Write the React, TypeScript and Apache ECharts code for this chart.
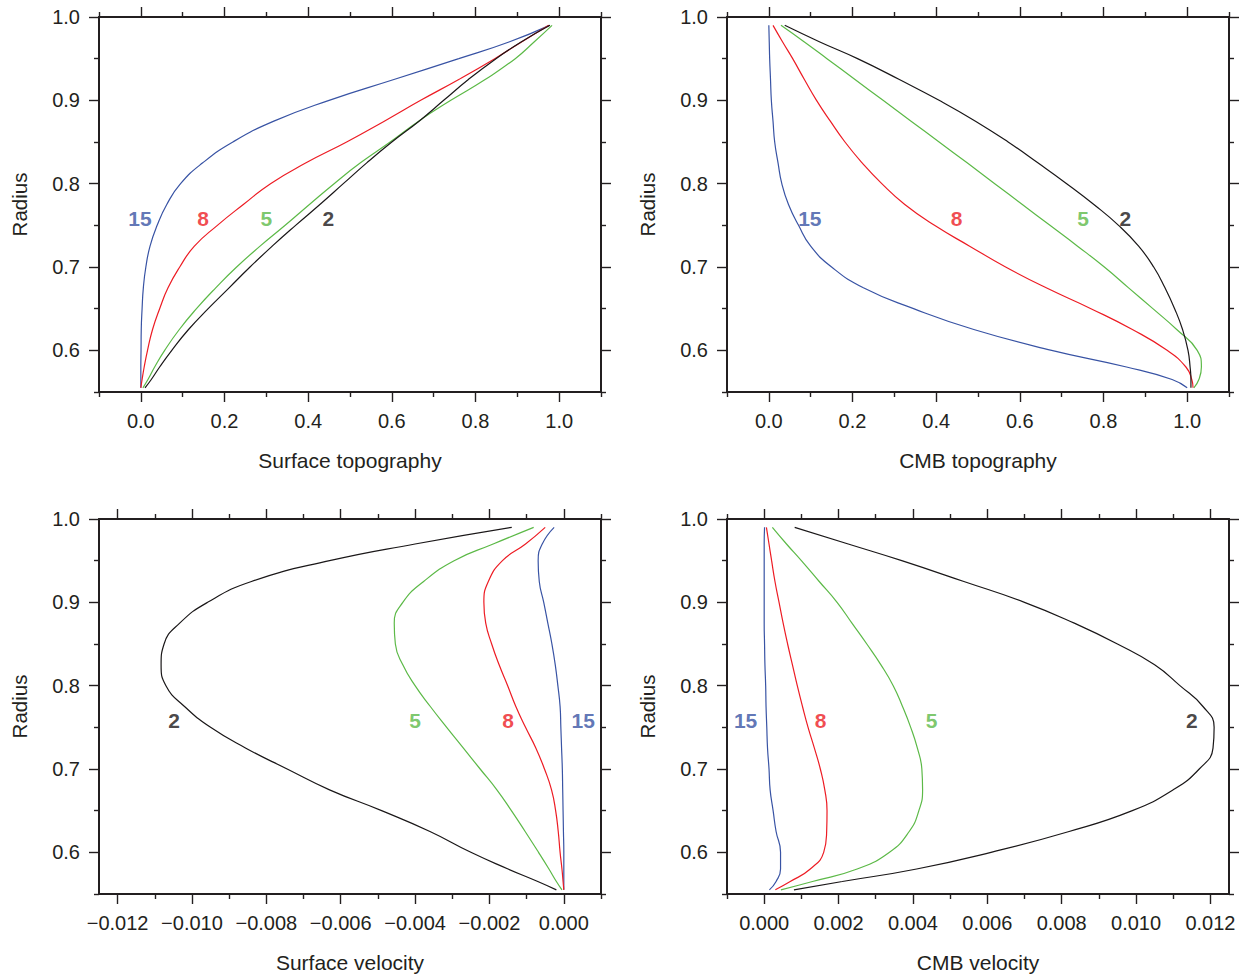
import React, { useEffect, useRef } from "react";
import * as echarts from "echarts";

const FONT = '"Liberation Sans", Arial, Helvetica, sans-serif';
const INK = "#231f20";

// Degrees shown on the curves and their colours
const DEGREES = ["15", "8", "5", "2"];
const DEGREE_COLORS = ["#3853a4", "#ed1c24", "#5cb947", "#1a1718"];

// Shared radius samples (y values) for every curve
const RADIUS = [0.555, 0.565, 0.58, 0.6, 0.625, 0.65, 0.675, 0.7, 0.725, 0.75, 0.775, 0.8, 0.825, 0.85, 0.875, 0.9, 0.925, 0.95, 0.97, 0.99];

// Surface topography
const ST_15 = [0, 0, 0, 0.0005, 0.001, 0.003, 0.006, 0.012, 0.022, 0.039, 0.062, 0.095, 0.148, 0.22, 0.318, 0.45, 0.605, 0.76, 0.88, 0.977];
const ST_8 = [0, 0.003, 0.008, 0.016, 0.028, 0.045, 0.065, 0.093, 0.128, 0.183, 0.245, 0.31, 0.395, 0.492, 0.582, 0.669, 0.76, 0.846, 0.91, 0.975];
const ST_5 = [0.005, 0.017, 0.033, 0.057, 0.092, 0.133, 0.179, 0.229, 0.285, 0.345, 0.403, 0.462, 0.525, 0.596, 0.664, 0.741, 0.823, 0.895, 0.94, 0.983];
const ST_2 = [0.01, 0.025, 0.045, 0.074, 0.114, 0.161, 0.211, 0.261, 0.314, 0.37, 0.428, 0.484, 0.54, 0.6, 0.665, 0.724, 0.783, 0.849, 0.909, 0.978];

// CMB topography
const CT_15 = [1.0, 0.964, 0.855, 0.676, 0.49, 0.346, 0.226, 0.15, 0.1, 0.071, 0.047, 0.031, 0.022, 0.014, 0.01, 0.006, 0.004, 0.002, 0.001, 0.0];
const CT_8 = [1.014, 1.011, 0.997, 0.952, 0.869, 0.77, 0.663, 0.566, 0.48, 0.396, 0.325, 0.27, 0.223, 0.182, 0.147, 0.114, 0.085, 0.057, 0.033, 0.01];
const CT_5 = [1.016, 1.028, 1.034, 1.024, 0.975, 0.918, 0.86, 0.802, 0.738, 0.672, 0.606, 0.54, 0.474, 0.407, 0.34, 0.273, 0.206, 0.139, 0.085, 0.029];
const CT_2 = [1.009, 1.009, 1.007, 1.002, 0.989, 0.97, 0.947, 0.92, 0.884, 0.836, 0.777, 0.712, 0.643, 0.572, 0.494, 0.407, 0.312, 0.212, 0.122, 0.038];

// Surface velocity
const SV_15 = [0, 0, 0, 0, -0.00001, -0.00002, -0.00003, -0.00004, -0.00006, -0.00008, -0.0001, -0.00016, -0.00023, -0.00032, -0.00043, -0.00054, -0.00066, -0.00069, -0.00058, -0.00026];
const SV_8 = [0, -0.00002, -0.00005, -0.0001, -0.00015, -0.00022, -0.00033, -0.00052, -0.00075, -0.00103, -0.00129, -0.00151, -0.00174, -0.00194, -0.0021, -0.00215, -0.00203, -0.00165, -0.00103, -0.0005];
const SV_5 = [-0.00005, -0.0002, -0.0004, -0.00068, -0.00104, -0.00141, -0.0018, -0.00225, -0.0027, -0.00315, -0.00359, -0.004, -0.00433, -0.00453, -0.00456, -0.00433, -0.00377, -0.00295, -0.0019, -0.00081];
const SV_2 = [-0.0002, -0.0007, -0.0015, -0.0025, -0.0036, -0.0049, -0.0063, -0.00744, -0.00855, -0.0095, -0.0102, -0.0107, -0.01083, -0.01075, -0.01033, -0.00958, -0.0084, -0.0063, -0.004, -0.0014];

// CMB velocity
const CV_15 = [0.00014, 0.00032, 0.00044, 0.00044, 0.00032, 0.00024, 0.00016, 0.00013, 0.00009, 0.00007, 0.00005, 0.00004, 0.00002, 0.00001, 0, 0, 0, 0, 0, 0.00001];
const CV_8 = [0.0003, 0.0007, 0.00124, 0.0016, 0.00168, 0.00169, 0.00163, 0.00151, 0.00135, 0.00118, 0.00103, 0.00089, 0.00076, 0.00063, 0.00051, 0.0004, 0.00029, 0.0002, 0.00013, 0.00006];
const CV_5 = [0.00045, 0.0013, 0.0025, 0.00337, 0.0039, 0.00416, 0.00426, 0.00424, 0.00412, 0.00394, 0.00372, 0.00347, 0.00314, 0.00276, 0.00236, 0.00196, 0.00148, 0.001, 0.0006, 0.00022];
const CV_2 = [0.0008, 0.0021, 0.0041, 0.0061, 0.0082, 0.0099, 0.011, 0.0117, 0.01207, 0.0121, 0.0118, 0.01118, 0.0105, 0.0095, 0.00834, 0.007, 0.00537, 0.0037, 0.00226, 0.00082];

// Curve label anchors (x in data units, in DEGREES order), shared radius
const LABEL_R = 0.758;
const ST_LABEL_X = [-0.002, 0.149, 0.3, 0.448];
const CT_LABEL_X = [0.098, 0.449, 0.751, 0.852];
const SV_LABEL_X = [0.00052, -0.0015, -0.004, -0.01048];
const CV_LABEL_X = [-0.0005, 0.00152, 0.0045, 0.0115];

// Tick values
const RADIUS_MAJOR = [0.6, 0.7, 0.8, 0.9, 1.0];
const RADIUS_MINOR = [0.55, 0.65, 0.75, 0.85, 0.95];
const TOPO_MAJOR = [0, 0.2, 0.4, 0.6, 0.8, 1.0];
const TOPO_MINOR = [-0.1, 0.1, 0.3, 0.5, 0.7, 0.9, 1.1];
const SV_MAJOR = [-0.012, -0.01, -0.008, -0.006, -0.004, -0.002, 0];
const SV_MINOR = [-0.011, -0.009, -0.007, -0.005, -0.003, -0.001, 0.001];
const CV_MAJOR = [0, 0.002, 0.004, 0.006, 0.008, 0.01, 0.012];
const CV_MINOR = [-0.001, 0.001, 0.003, 0.005, 0.007, 0.009, 0.011];

const PANELS = [
  { left: 99, top: 17, xMin: -0.1, xMax: 1.1, major: TOPO_MAJOR, minor: TOPO_MINOR, digits: 1, name: "Surface topography", curves: [ST_15, ST_8, ST_5, ST_2], labelX: ST_LABEL_X },
  { left: 727, top: 17, xMin: -0.1, xMax: 1.1, major: TOPO_MAJOR, minor: TOPO_MINOR, digits: 1, name: "CMB topography", curves: [CT_15, CT_8, CT_5, CT_2], labelX: CT_LABEL_X },
  { left: 99, top: 519, xMin: -0.0125, xMax: 0.001, major: SV_MAJOR, minor: SV_MINOR, digits: 3, name: "Surface velocity", curves: [SV_15, SV_8, SV_5, SV_2], labelX: SV_LABEL_X },
  { left: 727, top: 519, xMin: -0.001, xMax: 0.0125, major: CV_MAJOR, minor: CV_MINOR, digits: 3, name: "CMB velocity", curves: [CV_15, CV_8, CV_5, CV_2], labelX: CV_LABEL_X },
];

const W = 502;
const H = 375;

function fmt(v: number, digits: number) {
  const s = Math.abs(v).toFixed(digits);
  return (v < -1e-12 ? "\u2212" : "") + s;
}

function buildOption() {
  const grid: any[] = [];
  const xAxis: any[] = [];
  const yAxis: any[] = [];
  const series: any[] = [];
  const lineStyle = { color: INK, width: 2 };
  const tickStyle = { color: INK, width: 1.4 };

  PANELS.forEach((p, i) => {
    grid.push({ left: p.left, top: p.top, width: W, height: H, containLabel: false });
    const xBase = { type: "value", gridIndex: i, min: p.xMin, max: p.xMax, splitLine: { show: false }, silent: true };
    xAxis.push({
      ...xBase,
      position: "bottom",
      axisLine: { show: true, onZero: false, lineStyle },
      axisTick: { show: true, inside: false, length: 10, customValues: p.major, lineStyle: tickStyle },
      axisLabel: {
        show: true, customValues: p.major, margin: 19, fontSize: 20, color: INK, fontFamily: FONT,
        formatter: (v: number) => fmt(v, p.digits),
      },
      name: p.name, nameLocation: "middle", nameGap: 58,
      nameTextStyle: { fontSize: 21, color: INK, fontFamily: FONT },
    });
    xAxis.push({
      ...xBase, position: "bottom",
      axisLine: { show: false, onZero: false },
      axisTick: { show: true, inside: false, length: 5, customValues: p.minor, lineStyle: tickStyle },
      axisLabel: { show: false },
    });
    xAxis.push({
      ...xBase, position: "top",
      axisLine: { show: true, onZero: false, lineStyle },
      axisTick: { show: true, inside: false, length: 10, customValues: p.major, lineStyle: tickStyle },
      axisLabel: { show: false },
    });
    xAxis.push({
      ...xBase, position: "top",
      axisLine: { show: false, onZero: false },
      axisTick: { show: true, inside: false, length: 5, customValues: p.minor, lineStyle: tickStyle },
      axisLabel: { show: false },
    });

    const yBase = { type: "value", gridIndex: i, min: 0.55, max: 1.0, splitLine: { show: false }, silent: true };
    yAxis.push({
      ...yBase, position: "left",
      axisLine: { show: true, onZero: false, lineStyle },
      axisTick: { show: true, inside: false, length: 10, customValues: RADIUS_MAJOR, lineStyle: tickStyle },
      axisLabel: {
        show: true, customValues: RADIUS_MAJOR, margin: 19, fontSize: 20, color: INK, fontFamily: FONT,
        formatter: (v: number) => v.toFixed(1),
      },
      name: "Radius", nameLocation: "middle", nameGap: 69,
      nameTextStyle: { fontSize: 20.5, color: INK, fontFamily: FONT },
    });
    yAxis.push({
      ...yBase, position: "left",
      axisLine: { show: false, onZero: false },
      axisTick: { show: true, inside: false, length: 5, customValues: RADIUS_MINOR, lineStyle: tickStyle },
      axisLabel: { show: false },
    });
    yAxis.push({
      ...yBase, position: "right",
      axisLine: { show: true, onZero: false, lineStyle },
      axisTick: { show: true, inside: false, length: 10, customValues: RADIUS_MAJOR, lineStyle: tickStyle },
      axisLabel: { show: false },
    });
    yAxis.push({
      ...yBase, position: "right",
      axisLine: { show: false, onZero: false },
      axisTick: { show: true, inside: false, length: 5, customValues: RADIUS_MINOR, lineStyle: tickStyle },
      axisLabel: { show: false },
    });

    p.curves.forEach((xs, k) => {
      series.push({
        type: "line",
        xAxisIndex: i * 4,
        yAxisIndex: i * 4,
        data: RADIUS.map((r, j) => [xs[j], r]),
        symbol: "none",
        showSymbol: false,
        smooth: 0.5,
        clip: true,
        silent: true,
        lineStyle: { color: DEGREE_COLORS[k], width: 1.2 },
        z: 3,
      });
    });

    series.push({
      type: "scatter",
      xAxisIndex: i * 4,
      yAxisIndex: i * 4,
      symbolSize: 0.1,
      silent: true,
      itemStyle: { color: "rgba(0,0,0,0)" },
      data: DEGREES.map((d, k) => ({
        value: [p.labelX[k], LABEL_R],
        name: d,
        label: { color: DEGREE_COLORS[k] },
      })),
      label: {
        show: true,
        position: "inside",
        formatter: "{b}",
        fontSize: 21,
        fontWeight: "bold",
        fontFamily: FONT,
      },
      z: 5,
    });
  });

  return {
    animation: false,
    backgroundColor: "#ffffff",
    grid,
    xAxis,
    yAxis,
    series,
  };
}

export default function App() {
  const ref = useRef<HTMLDivElement>(null);
  useEffect(() => {
    if (!ref.current) return;
    const chart = echarts.init(ref.current, undefined, { renderer: "svg" });
    chart.setOption(buildOption() as any);
    return () => chart.dispose();
  }, []);
  return (
    <div
      ref={ref}
      style={{ position: "fixed", left: 0, top: 0, width: 1244, height: 975, background: "#fff" }}
    />
  );
}
